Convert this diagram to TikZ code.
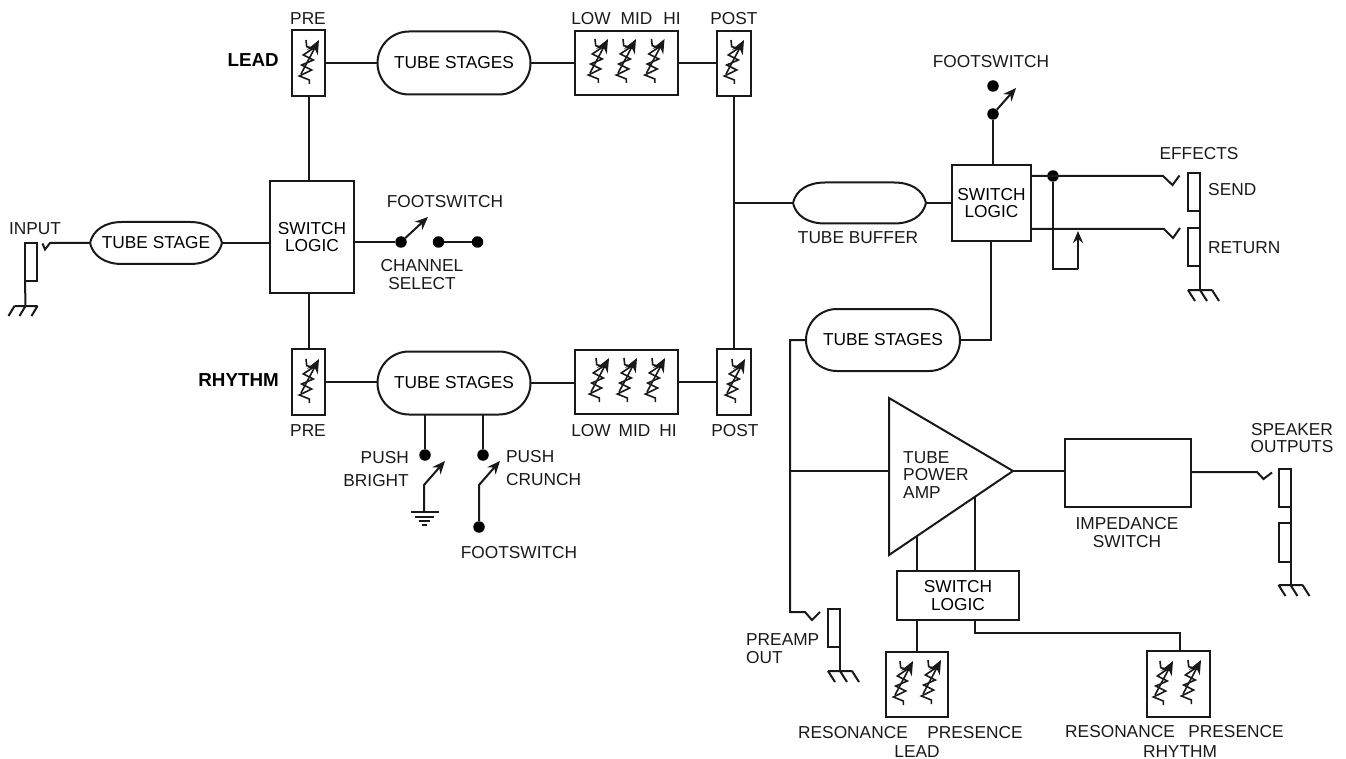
\documentclass[tikz,border=0pt]{standalone}
\usepackage{fontspec}
\setmainfont{Liberation Sans}
\usetikzlibrary{shapes.misc,arrows.meta,calc}
\newcommand{\ovalborder}[1]{%
  \draw[wire] (#1.west)
    .. controls ($(#1.west)+(3,-13)$) and ($(#1.north west)+(15,0)$) .. ($(#1.north west)+(32,0)$)
    -- ($(#1.north east)+(-32,0)$)
    .. controls ($(#1.north east)+(-15,0)$) and ($(#1.east)+(-3,-13)$) .. (#1.east)
    .. controls ($(#1.east)+(-3,13)$) and ($(#1.south east)+(-15,0)$) .. ($(#1.south east)+(-32,0)$)
    -- ($(#1.south west)+(32,0)$)
    .. controls ($(#1.south west)+(15,0)$) and ($(#1.west)+(3,13)$) .. (#1.west) -- cycle;}
\tikzset{
  x=1pt,y=-1pt,
  wire/.style={line width=2pt,line join=miter,color=black!90},
  box/.style={draw=black!90,line width=2pt,fill=white,rectangle,inner sep=0pt,outer sep=0pt,align=center,font=\fontsize{17.3}{17.5}\selectfont},
  pill/.style={draw=black!90,line width=2pt,fill=white,rounded rectangle,inner sep=0pt,outer sep=0pt,font=\fontsize{17.3}{17.5}\selectfont},
  oval/.style={rectangle,inner sep=0pt,outer sep=0pt,font=\fontsize{17.3}{17.5}\selectfont},
  lbl/.style={inner sep=0pt,align=center,font=\fontsize{17.3}{18}\selectfont,text=black!90},
  lblb/.style={inner sep=0pt,font=\fontsize{18.8}{19}\selectfont\bfseries,text=black},
  dotn/.style={circle,fill=black,inner sep=0pt,minimum size=11.5pt},
  toggle/.style={wire,-{Stealth[length=13pt,width=11pt]}},
  pot/.pic={
    \draw[line width=1.6pt,color=black!90] (-3,-22)--(-2.3,-15.3)--(4.3,-13.7)--(-5.7,-7)--(4.3,-2)--(-7.3,3)--(2.7,8)--(-9.7,14)--(.3,18)--(.3,22);
    \draw[line width=1.6pt,color=black!90,-{Stealth[length=14pt,width=12pt]}] (-8,12)--(10,-22);
  },
  groundr/.pic={
    \draw[wire] (-12,0)--(12,0) (-12,0)--(-5,11) (0,0)--(7,11) (12,0)--(19,11);
  },
  groundl/.pic={
    \draw[wire] (-11,0)--(12,0) (-11,0)--(-17,10) (0,0)--(-6,10) (12,0)--(6,10);
  }
}
\begin{document}
\begin{tikzpicture}
\useasboundingbox (0,0) rectangle (1346,759);
% ---- Lead channel
\node[box,minimum width=33pt,minimum height=66pt] (lpre) at (308.5,63) {};
\node[pill,minimum width=153pt,minimum height=63pt] (ltube) at (454,63) {TUBE STAGES};
\node[box,minimum width=103pt,minimum height=64pt] (leq) at (626.5,63) {};
\node[box,minimum width=34pt,minimum height=65pt] (lpost) at (734,63.5) {};
\pic at (309,62) {pot};
\pic at (598,61) {pot};
\pic at (626,61) {pot};
\pic at (654.5,61) {pot};
\pic at (734,62) {pot};
\node[lbl] (t1) at (308,19) {PRE};
\node[lblb,anchor=east] (t3) at (279,60) {LEAD};
\node[lbl] (t4) at (626,19) {LOW\hspace{10pt}MID\hspace{11pt}HI};
\node[lbl] (t5) at (734,19) {POST};
% ---- Rhythm channel
\node[box,minimum width=33pt,minimum height=66pt] (rpre) at (308.5,382) {};
\node[pill,minimum width=153pt,minimum height=63pt] (rtube) at (454,383) {TUBE STAGES};
\node[box,minimum width=103pt,minimum height=64pt] (req) at (626.5,382) {};
\node[box,minimum width=34pt,minimum height=66pt] (rpost) at (734,382) {};
\pic at (309,381) {pot};
\pic at (599,380) {pot};
\pic at (627,380) {pot};
\pic at (655,380) {pot};
\pic at (735,381) {pot};
\node[lblb,anchor=east] (t6) at (279,380) {RHYTHM};
\node[lbl] (t7) at (308,431) {PRE};
\node[lbl] (t8) at (624,431) {LOW\hspace{8pt}MID\hspace{9pt}HI};
\node[lbl] (t9) at (735,431) {POST};
% ---- Input side
\node[box,minimum width=12pt,minimum height=38pt] (injack) at (31,262) {};
\node[oval,minimum width=132pt,minimum height=42pt] (intube) at (156,243) {TUBE STAGE};
\ovalborder{intube}
\node[box,minimum width=84pt,minimum height=112pt] (swl) at (312,237) {SWITCH\\LOGIC};
\node[lbl] (t10) at (35,229) {INPUT};
\coordinate (ingnd) at (25.5,306);
\coordinate (intip) at (50,243);
\draw[wire] (intube.west) -- (intip) -- (45,249.5) -- (42.5,243.5);
\draw[wire] (injack.south west) -- (ingnd);
\pic at (ingnd) {groundl};
\draw[wire] (intube.east) -- (swl.west |- intube.east);
\draw[wire] (lpre.south) -- (lpre.south |- swl.north);
\draw[wire] (rpre.north) -- (rpre.north |- swl.south);
\draw[wire] (lpre.east) -- (lpre.east -| ltube.west);
\draw[wire] (ltube.east) -- (ltube.east -| leq.west);
\draw[wire] (leq.east) -- (leq.east -| lpost.west);
\draw[wire] (rpre.east) -- (rpre.east -| rtube.west);
\draw[wire] (rtube.east) -- (rtube.east -| req.west);
\draw[wire] (req.east) -- (req.east -| rpost.west);
% channel select
\node[dotn] (cs1) at (401,242) {};
\node[dotn] (cs2) at (438.5,242) {};
\node[dotn] (cs3) at (477.5,242) {};
\coordinate (cstip) at (428,217);
\draw[wire] (swl.east |- cs1) -- (cs1);
\draw[toggle] (cs1) -- (cstip);
\draw[wire] (cs2) -- (cs3);
\node[lbl] (t11) at (445,202) {FOOTSWITCH};
\node[lbl] (t12) at (422,275) {CHANNEL\\SELECT};
% push bright / crunch
\node[dotn] (pb) at (425,455) {};
\node[dotn] (pc) at (483,455) {};
\node[dotn] (pf) at (479,527) {};
\coordinate (pbk) at (424,485);
\coordinate (pck) at (479,485);
\coordinate (pbg) at (424,511.5);
\coordinate (pbtip) at (445,461);
\coordinate (pctip) at (500,461);
\draw[wire] (pb) -- (pb |- rtube.south);
\draw[wire] (pc) -- (pc |- rtube.south);
\draw[toggle] (pbg) -- (pbk) -- (pbtip);
\draw[toggle] (pf) -- (pck) -- (pctip);
\draw[wire] (411,511.5)--(439,511.5) (415,516.5)--(434,516.5) (418.5,520.5)--(430,520.5) (422,524.5)--(427,524.5);
\node[lbl,anchor=east] (t13) at (409,458) {PUSH};
\node[lbl,anchor=east] (t14) at (409,481) {BRIGHT};
\node[lbl,anchor=west] (t15) at (506,457) {PUSH};
\node[lbl,anchor=west] (t16) at (506,480) {CRUNCH};
\node[lbl] (t17) at (519,553) {FOOTSWITCH};
% ---- Post junction and buffer
\node[oval,minimum width=133pt,minimum height=41pt] (buf) at (859.5,203) {};
\ovalborder{buf}
\node[box,minimum width=79pt,minimum height=76pt] (swr) at (991.5,203) {SWITCH\\LOGIC};
\coordinate (jct) at (734.5,203);
\draw[wire] (lpost.south) -- (rpost.north);
\draw[wire] (jct) -- (buf.west);
\draw[wire] (buf.east) -- (swr.west |- buf.east);
\node[lbl] (t18) at (858,238) {TUBE BUFFER};
% footswitch top
\node[dotn] (ft1) at (993,86) {};
\node[dotn] (ft2) at (993,114) {};
\coordinate (fttip) at (1016,88);
\draw[wire] (ft2) -- (ft2 |- swr.north);
\draw[toggle] (ft2) -- (fttip);
\node[lbl] (t19) at (991,62) {FOOTSWITCH};
% effects
\node[box,minimum width=12pt,minimum height=38pt] (send) at (1194,192) {};
\node[box,minimum width=12pt,minimum height=38pt] (ret) at (1194,247) {};
\node[dotn] (fxd) at (1053,176) {};
\coordinate (stip) at (1163,176);
\coordinate (rtip) at (1164,229);
\coordinate (fxgnd) at (1200,290);
\coordinate (lp1) at (1053,269);
\coordinate (lp2) at (1078,269);
\coordinate (lp3) at (1078,231);
\draw[wire] (swr.east |- stip) -- (stip) -- (1172.5,185) -- (1179.5,175.5);
\draw[wire] (swr.east |- rtip) -- (rtip) -- (1173,238) -- (1180,228);
\draw[wire] (fxd) -- (lp1) -- (lp2);
\draw[wire,-{Stealth[length=12pt,width=10pt]}] (lp2) -- (lp3);
\draw[wire] (send.south east) -- (ret.north east);
\draw[wire] (ret.south east) -- (fxgnd);
\pic at (fxgnd) {groundr};
\node[lbl] (t20) at (1199,154) {EFFECTS};
\node[lbl,anchor=west] (t21) at (1208,190) {SEND};
\node[lbl,anchor=west] (t22) at (1208,248) {RETURN};
% ---- Lower tube stages
\node[pill,minimum width=154pt,minimum height=62pt] (stube) at (883,340) {TUBE STAGES};
\coordinate (sbus) at (790,340);
\coordinate (scorn) at (991,340);
\coordinate (pamp) at (790,612);
\coordinate (ptap) at (790,471);
\draw[wire] (swr.south -| scorn) -- (scorn) -- (stube.east);
\draw[wire] (stube.west) -- (sbus) -- (pamp) -- (805,612) -- (812,620) -- (820,612);
% preamp out jack
\node[box,minimum width=12pt,minimum height=38pt] (pjack) at (834,628) {};
\coordinate (pgnd) at (840,671);
\draw[wire] (pjack.south east) -- (pgnd);
\pic at (pgnd) {groundr};
\node[lbl,anchor=west] (t23) at (746,640) {PREAMP};
\node[lbl,anchor=west] (t24) at (746,658) {OUT};
% ---- Power amp
\coordinate (ta) at (889,398);
\coordinate (tb) at (889,555);
\coordinate (tc) at (1013,471);
\draw[wire,fill=white] (ta) -- (tb) -- (tc) -- cycle;
\draw[wire] (ptap) -- (ptap -| ta);
\node[lbl,anchor=west,font=\fontsize{17.3}{17.5}\selectfont,align=left] (t25) at (903,475) {TUBE\\POWER\\AMP};
\node[box,minimum width=126pt,minimum height=68pt] (imp) at (1128,473) {};
\draw[wire] (tc) -- (tc -| imp.west);
\node[lbl] (t26) at (1127,533) {IMPEDANCE\\SWITCH};
% speaker
\node[box,minimum width=12pt,minimum height=38pt] (sp1) at (1284.5,488) {};
\node[box,minimum width=12pt,minimum height=39pt] (sp2) at (1284.5,542.5) {};
\coordinate (sptip) at (1257,472);
\coordinate (spgnd) at (1290.5,585);
\draw[wire] (imp.east |- sptip) -- (sptip) -- (1263.5,479) -- (1272,472.5);
\draw[wire] (sp1.south east) -- (sp2.north east);
\draw[wire] (sp2.south east) -- (spgnd);
\pic at (spgnd) {groundr};
\node[lbl,font=\fontsize{17.3}{17}\selectfont] (t27) at (1292,438.5) {SPEAKER\\OUTPUTS};
% ---- Lower switch logic
\node[box,minimum width=122pt,minimum height=49pt] (swb) at (958,595.5) {SWITCH\\LOGIC};
\coordinate (tap1) at (917,536);
\coordinate (tap2) at (975,496);
\draw[wire] (tap1) -- (tap1 |- swb.north);
\draw[wire] (tap2) -- (tap2 |- swb.north);
\node[box,minimum width=62pt,minimum height=65pt] (blead) at (917,684.5) {};
\node[box,minimum width=63pt,minimum height=66pt] (brhy) at (1178.5,684) {};
\pic at (903,683) {pot};
\pic at (931,682) {pot};
\pic at (1163,683) {pot};
\pic at (1191,682) {pot};
\coordinate (rb1) at (975,633);
\coordinate (rb2) at (1180,633);
\draw[wire] (swb.south -| blead) -- (blead.north);
\draw[wire] (rb1 |- swb.south) -- (rb1) -- (rb2) -- (rb2 |- brhy.north);
\node[lbl] (t28) at (853,733) {RESONANCE};
\node[lbl] (t29) at (975,733) {PRESENCE};
\node[lbl] (t30) at (917,752) {LEAD};
\node[lbl] (t31) at (1120,732) {RESONANCE};
\node[lbl] (t32) at (1236,732) {PRESENCE};
\node[lbl] (t33) at (1180,752) {RHYTHM};
\end{tikzpicture}
\end{document}
